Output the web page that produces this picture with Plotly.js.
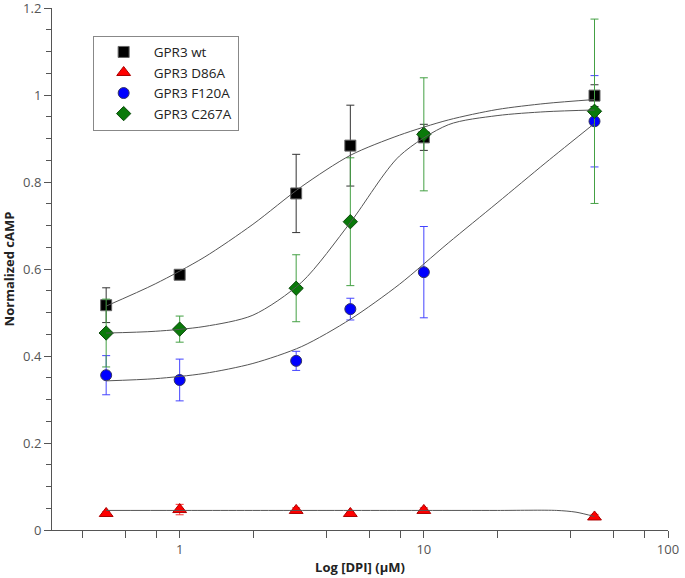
<!DOCTYPE html>
<html>
<head>
<meta charset="utf-8">
<script src="https://cdn.plot.ly/plotly-3.0.1.min.js"></script>
<style>html,body{margin:0;padding:0;background:#fff;}#chart{width:685px;height:578px;}</style>
</head>
<body>
<div id="chart"></div>
<script>
// Measured doses (µM)
const doses = [0.5, 1, 3, 5, 10, 50];

// Normalized cAMP means and errors
const wtY     = [0.517, 0.587, 0.774, 0.884, 0.903, 0.999];
const wtErr   = [0.040, 0.010, 0.090, 0.093, 0.030, 0.025];
const d86aY   = [0.038, 0.047, 0.045, 0.038, 0.045, 0.030];
const d86aErr = [0.004, 0.012, 0.006, 0.003, 0.006, 0.006];
const f120aY  = [0.356, 0.345, 0.389, 0.508, 0.593, 0.940];
const f120aErr= [0.045, 0.048, 0.022, 0.025, 0.105, 0.105];
const c267aY  = [0.453, 0.462, 0.556, 0.709, 0.910, 0.963];
const c267aErr= [0.078, 0.030, 0.077, 0.147, 0.130, 0.212];

const fitX      = [0.5, 0.794, 1.259, 1.995, 3.162, 5.012, 7.943, 12.59, 19.95, 31.62, 50];
const wtFitY    = [0.515, 0.566, 0.627, 0.703, 0.790, 0.862, 0.908, 0.943, 0.967, 0.981, 0.990];
const f120aFitY = [0.343, 0.348, 0.360, 0.383, 0.422, 0.485, 0.565, 0.660, 0.752, 0.845, 0.935];
const c267aFitY = [0.453, 0.457, 0.468, 0.494, 0.570, 0.708, 0.860, 0.932, 0.953, 0.962, 0.966];
const d86aFitX  = [0.5, 1, 3, 10, 20, 35, 42, 50];
const d86aFitY  = [0.045, 0.045, 0.045, 0.045, 0.045, 0.045, 0.041, 0.031];

const names = ['GPR3 wt', 'GPR3 D86A', 'GPR3 F120A', 'GPR3 C267A'];
const xTickVals = [1, 10, 100];
const xTickText = ['1', '10', '100'];
const xMinorVals = [0.4, 0.6, 0.8, 2, 4, 6, 8, 20, 40, 60, 80];
const yTickVals = [0, 0.2, 0.4, 0.6, 0.8, 1, 1.2];
const yTickText = ['0', '0.2', '0.4', '0.6', '0.8', '1', '1.2'];

function pts(name, y, err, symbol, fill, edge, barColor, size) {
  return {
    type: 'scatter', mode: 'markers', name: name, x: doses, y: y,
    error_y: {type: 'data', array: err, visible: true, color: barColor, thickness: 1, width: 4},
    marker: {symbol: symbol, size: size, color: fill, line: {color: edge, width: 1}}
  };
}
function fit(x, y) {
  return {
    type: 'scatter', mode: 'lines', x: x, y: y, showlegend: false, hoverinfo: 'skip',
    line: {color: '#555555', width: 1, shape: 'spline', smoothing: 0.8}
  };
}

const data = [
  pts(names[0], wtY, wtErr, 'square', '#000000', '#666666', '#333333', 11),
  pts(names[1], d86aY, d86aErr, 'triangle-up', '#ff0000', '#aa0000', '#ff3333', 12),
  pts(names[2], f120aY, f120aErr, 'circle', '#0000ff', '#333366', '#4444ff', 11),
  pts(names[3], c267aY, c267aErr, 'diamond', '#0a7a0a', '#0a4a0a', '#44a044', 11),
  fit(fitX, wtFitY),
  fit(d86aFitX, d86aFitY),
  fit(fitX, f120aFitY),
  fit(fitX, c267aFitY)
];

const layout = {
  width: 685, height: 578,
  margin: {l: 52, r: 17, t: 8, b: 48},
  paper_bgcolor: '#ffffff', plot_bgcolor: '#ffffff',
  font: {family: 'Open Sans, sans-serif', size: 13, color: '#555555'},
  showlegend: true,
  legend: {
    x: 0.066, y: 0.947, xanchor: 'left', yanchor: 'top',
    bordercolor: '#888888', borderwidth: 1, bgcolor: '#ffffff',
    font: {size: 13.5, color: '#222222'}, tracegroupgap: 0,
    itemwidth: 50, entrywidth: 150, entrywidthmode: 'pixels'
  },
  xaxis: {
    type: 'log', range: [Math.log10(0.3), 2],
    tickmode: 'array', tickvals: xTickVals, ticktext: xTickText,
    ticks: 'outside', ticklen: 7, tickcolor: '#555555',
    showline: true, linecolor: '#555555', linewidth: 1,
    showgrid: false, zeroline: false,
    tickfont: {size: 13, color: '#555555'},
    minor: {tickmode: 'array', tickvals: xMinorVals, ticks: 'outside', ticklen: 7, tickcolor: '#555555', showgrid: false},
    title: {text: '<b>Log [DPI] (µM)</b>', font: {size: 13, color: '#222222'}, standoff: 6}
  },
  yaxis: {
    range: [0, 1.2005], tickmode: 'array', tickvals: yTickVals, ticktext: yTickText,
    ticks: 'outside', ticklen: 7, tickcolor: '#555555',
    showline: true, linecolor: '#555555', linewidth: 1,
    showgrid: false, zeroline: false, ticklabeloverflow: 'allow',
    tickfont: {size: 13, color: '#555555'},
    minor: {tickmode: 'linear', tick0: 0, dtick: 0.05, ticks: 'outside', ticklen: 5, tickcolor: '#555555', showgrid: false},
    title: {text: '<b>Normalized cAMP</b>', font: {size: 13, color: '#222222'}, standoff: 8}
  }
};

Plotly.newPlot('chart', data, layout, {displayModeBar: false, staticPlot: true});
</script>
</body>
</html>
